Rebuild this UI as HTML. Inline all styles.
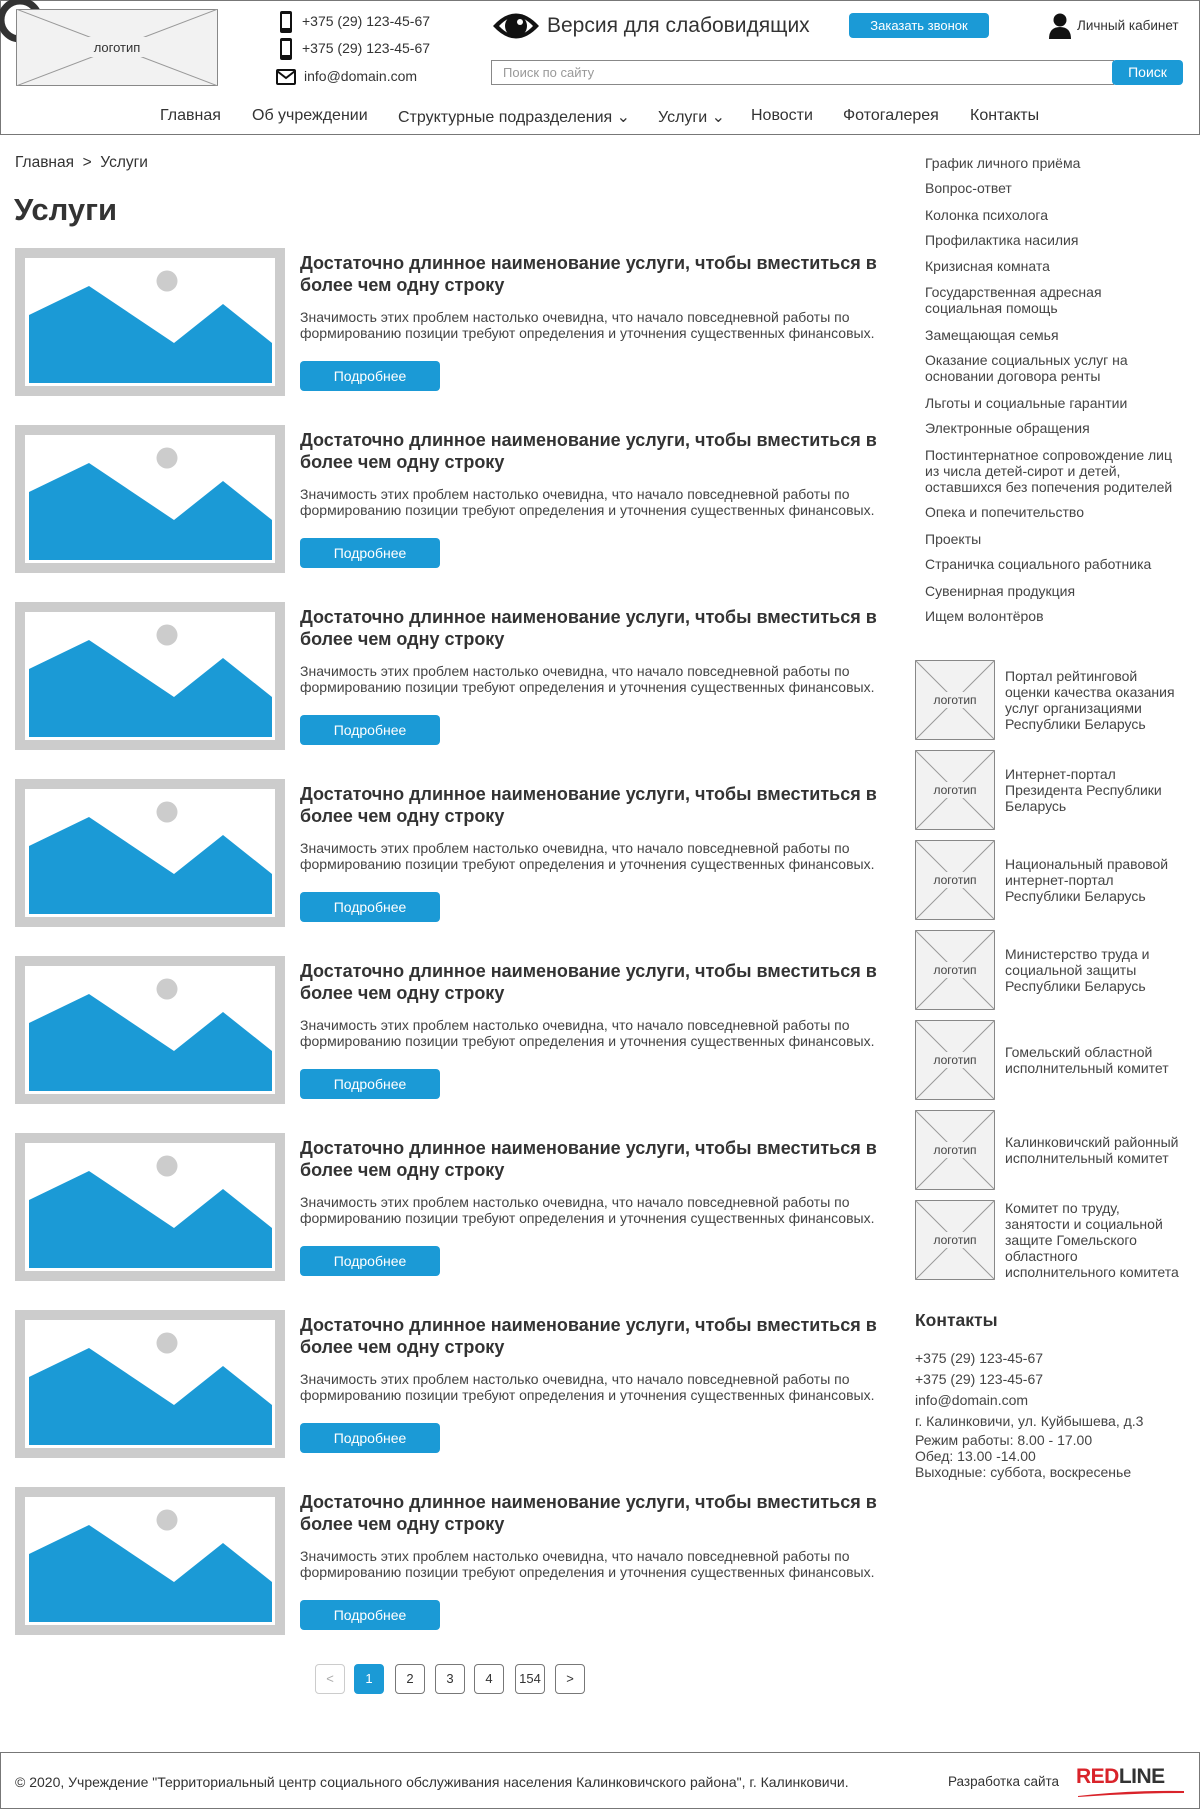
<!DOCTYPE html>
<html><head><meta charset="utf-8"><style>
*{margin:0;padding:0;box-sizing:border-box}
body{width:1200px;height:1810px;position:relative;background:#fff;font-family:"Liberation Sans",Arial,sans-serif;color:#333;overflow:hidden}
.a{position:absolute;white-space:nowrap}
.hdr{position:absolute;left:0;top:0;width:1200px;height:135px;border:1px solid #777;border-bottom:1px solid #777}
.ph{font-size:14px;color:#333}
.btn{position:absolute;background:#1b9ad6;color:#fff;border-radius:4px;text-align:center;font-size:14px}
.nav{font-size:16px;color:#333}
.card-t{font-size:18px;font-weight:bold;line-height:22px;color:#333}
.card-d{font-size:14px;line-height:16px;color:#444}
.sm{font-size:14px;line-height:16px;color:#444}
.lt{font-size:14px;line-height:16px;color:#444}
.pg{position:absolute;top:1664px;width:30px;height:30px;border:1px solid #777;border-radius:4px;text-align:center;line-height:28px;font-size:13px;color:#333}
</style></head><body>
<div class="hdr"></div>
<svg class="a" style="left:0;top:0" width="50" height="50"><circle cx="20" cy="20" r="19" fill="none" stroke="#333" stroke-width="7"/></svg>
<svg class="a" style="left:16px;top:9px" width="202" height="77"><rect x="0.5" y="0.5" width="201" height="76" fill="#f2f2f2" stroke="#888"/><line x1="0" y1="0" x2="202" y2="77" stroke="#999"/><line x1="202" y1="0" x2="0" y2="77" stroke="#999"/><rect x="70" y="28" width="64" height="20" fill="#f2f2f2"/><text x="101" y="43" text-anchor="middle" font-size="13" fill="#333" font-family="Liberation Sans">логотип</text></svg>
<svg class="a" style="left:279px;top:10px" width="14" height="24"><rect x="1" y="1" width="12" height="22" rx="2" fill="#111"/><rect x="3" y="4" width="8" height="14" fill="#fff"/></svg>
<svg class="a" style="left:279px;top:37px" width="14" height="24"><rect x="1" y="1" width="12" height="22" rx="2" fill="#111"/><rect x="3" y="4" width="8" height="14" fill="#fff"/></svg>
<svg class="a" style="left:276px;top:69px" width="20" height="16"><rect x="1" y="1" width="18" height="14" rx="1" fill="none" stroke="#111" stroke-width="2"/><polyline points="1,2 10,9 19,2" fill="none" stroke="#111" stroke-width="2"/></svg>
<div class="a ph" style="left:302px;top:13px">+375 (29) 123-45-67</div>
<div class="a ph" style="left:302px;top:40px">+375 (29) 123-45-67</div>
<div class="a ph" style="left:304px;top:68px">info@domain.com</div>
<svg class="a" style="left:491px;top:9px" width="50" height="34"><path d="M2 17 Q25 -8 48 17 Q25 42 2 17Z" fill="#111"/><path d="M8 17 Q25 -1 42 17 Q25 35 8 17Z" fill="#fff"/><circle cx="25" cy="17" r="11" fill="#111"/><circle cx="29" cy="13" r="3" fill="#fff"/></svg>
<div class="a" style="left:547px;top:14px;font-size:21px;color:#333">Версия для слабовидящих</div>
<div class="btn" style="left:849px;top:13px;width:140px;height:25px;line-height:25px;font-size:13px">Заказать звонок</div>
<svg class="a" style="left:1048px;top:13px" width="24" height="26"><circle cx="12" cy="7" r="6.5" fill="#111"/><path d="M1 26 Q1 14 12 14 Q23 14 23 26Z" fill="#111"/></svg>
<div class="a" style="left:1077px;top:18px;font-size:13.5px;color:#333">Личный кабинет</div>
<div class="a" style="left:491px;top:60px;width:623px;height:25px;border:1px solid #888"></div>
<div class="a" style="left:503px;top:65px;font-size:13px;color:#999">Поиск по сайту</div>
<div class="btn" style="left:1112px;top:60px;width:71px;height:25px;line-height:25px">Поиск</div>
<div class="a nav" style="left:160px;top:107px">Главная</div>
<div class="a nav" style="left:252px;top:107px">Об учреждении</div>
<div class="a nav" style="left:398px;top:107px">Структурные подразделения ⌄</div>
<div class="a nav" style="left:658px;top:107px">Услуги ⌄</div>
<div class="a nav" style="left:751px;top:107px">Новости</div>
<div class="a nav" style="left:843px;top:107px">Фотогалерея</div>
<div class="a nav" style="left:970px;top:107px">Контакты</div>

<div class="a" style="left:15px;top:154px;font-size:15.5px;color:#333">Главная &nbsp;&gt;&nbsp; Услуги</div>
<div class="a" style="left:14px;top:192px;font-size:31px;font-weight:bold;color:#333">Услуги</div>

<div id="cards"></div>
<script>
var h='';
for(var i=0;i<8;i++){var y=248+i*177;
h+='<svg class="a" style="left:15px;top:'+y+'px" width="270" height="148"><rect width="270" height="148" fill="#ccc"/><rect x="10" y="10" width="250" height="128" fill="#fff"/><circle cx="152" cy="33" r="10.5" fill="#ccc"/><polygon points="14,67 74,38 159,95 208,56 257,95 257,135 14,135" fill="#1b9ad6"/></svg>';
h+='<div class="a card-t" style="left:300px;top:'+(y+4)+'px">Достаточно длинное наименование услуги, чтобы вместиться в<br>более чем одну строку</div>';
h+='<div class="a card-d" style="left:300px;top:'+(y+61)+'px">Значимость этих проблем настолько очевидна, что начало повседневной работы по<br>формированию позиции требуют определения и уточнения существенных финансовых.</div>';
h+='<div class="btn" style="left:300px;top:'+(y+113)+'px;width:140px;height:30px;line-height:30px">Подробнее</div>';}
document.getElementById('cards').outerHTML=h;
</script>

<div id="side"></div>
<script>
var s=[[155,"График личного приёма"],[180,"Вопрос-ответ"],[207,"Колонка психолога"],[232,"Профилактика насилия"],[258,"Кризисная комната"],[284,"Государственная адресная<br>социальная помощь"],[327,"Замещающая семья"],[352,"Оказание социальных услуг на<br>основании договора ренты"],[395,"Льготы и социальные гарантии"],[420,"Электронные обращения"],[447,"Постинтернатное сопровождение лиц<br>из числа детей-сирот и детей,<br>оставшихся без попечения родителей"],[504,"Опека и попечительство"],[531,"Проекты"],[556,"Страничка социального работника"],[583,"Сувенирная продукция"],[608,"Ищем волонтёров"]];
var q='';for(var i=0;i<s.length;i++)q+='<div class="a sm" style="left:925px;top:'+s[i][0]+'px">'+s[i][1]+'</div>';
document.getElementById('side').outerHTML=q;
</script>

<div id="logos"></div>
<script>
var t=[["Портал рейтинговой","оценки качества оказания","услуг организациями","Республики Беларусь"],["Интернет-портал","Президента Республики","Беларусь"],["Национальный правовой","интернет-портал","Республики Беларусь"],["Министерство труда и","социальной защиты","Республики Беларусь"],["Гомельский областной","исполнительный комитет"],["Калинковичский районный","исполнительный комитет"],["Комитет по труду,","занятости и социальной","защите Гомельского","областного","исполнительного комитета"]];
var g='';
for(var i=0;i<7;i++){var y=660+i*90;
g+='<svg class="a" style="left:915px;top:'+y+'px" width="80" height="80"><rect x="0.5" y="0.5" width="79" height="79" fill="#f2f2f2" stroke="#888"/><line x1="0" y1="0" x2="80" y2="80" stroke="#999"/><line x1="80" y1="0" x2="0" y2="80" stroke="#999"/><rect x="14" y="32" width="52" height="16" fill="#f2f2f2"/><text x="40" y="44" text-anchor="middle" font-size="12" fill="#444" font-family="Liberation Sans">логотип</text></svg>';
var n=t[i].length;var ty=y+40-n*8;
g+='<div class="a lt" style="left:1005px;top:'+ty+'px">'+t[i].join('<br>')+'</div>';}
document.getElementById('logos').outerHTML=g;
</script>

<div class="a" style="left:915px;top:1310px;font-size:17.5px;font-weight:bold;color:#333">Контакты</div>
<div class="a sm" style="left:915px;top:1348px;line-height:21px">+375 (29) 123-45-67<br>+375 (29) 123-45-67<br>info@domain.com<br>г. Калинковичи, ул. Куйбышева, д.3</div>
<div class="a sm" style="left:915px;top:1432px">Режим работы: 8.00 - 17.00<br>Обед: 13.00 -14.00<br>Выходные: суббота, воскресенье</div>

<div class="pg" style="left:315px;border-color:#ccc;color:#aaa">&lt;</div>
<div class="pg" style="left:354px;background:#1b9ad6;border-color:#1b9ad6;color:#fff">1</div>
<div class="pg" style="left:395px">2</div>
<div class="pg" style="left:435px">3</div>
<div class="pg" style="left:474px">4</div>
<div class="pg" style="left:515px">154</div>
<div class="pg" style="left:555px">&gt;</div>

<div class="a" style="left:0;top:1752px;width:1200px;height:57px;border:1px solid #777"></div>
<div class="a" style="left:15px;top:1774px;font-size:14px;color:#333">© 2020, Учреждение "Территориальный центр социального обслуживания населения Калинковичского района", г. Калинковичи.</div>
<div class="a" style="left:948px;top:1774px;font-size:13.5px;color:#333">Разработка сайта</div>
<div class="a" style="left:1076px;top:1765px;font-size:21px;font-weight:bold;letter-spacing:-0.5px"><span style="color:#d9232a">RED</span><span style="color:#333">LINE</span></div>
<svg class="a" style="left:1076px;top:1788px" width="110" height="10"><path d="M2 8 Q55 2 108 3 L108 5 Q55 5 2 9Z" fill="#d9232a"/></svg>
</body></html>
